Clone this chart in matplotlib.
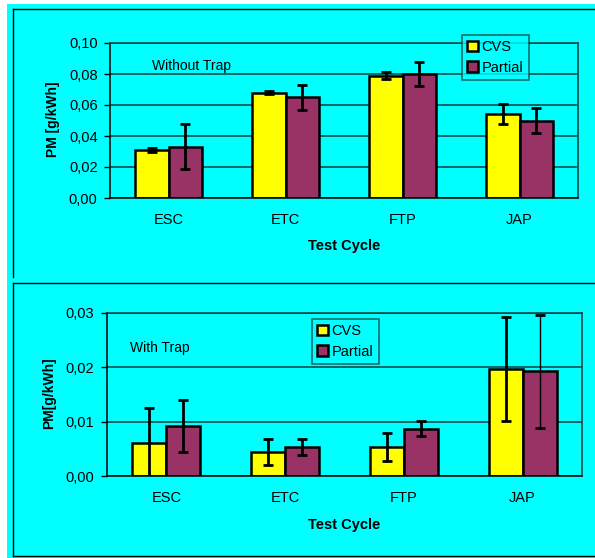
import matplotlib
matplotlib.use("Agg")
import matplotlib.pyplot as plt
from matplotlib.lines import Line2D
from matplotlib.patches import Rectangle, Patch
import numpy as np

plt.rcParams['font.family'] = ['Liberation Sans', 'DejaVu Sans']

# ---- data ----
cycles = ["ESC", "ETC", "FTP", "JAP"]
series_names = ["CVS", "Partial"]

no_trap_cvs = [0.031, 0.068, 0.079, 0.054]
no_trap_cvs_err = [0.001, 0.001, 0.0025, 0.0065]
no_trap_partial = [0.033, 0.065, 0.080, 0.050]
no_trap_partial_err = [0.0145, 0.008, 0.0075, 0.008]

trap_cvs = [0.0061, 0.0044, 0.0053, 0.0197]
trap_cvs_err = [0.0064, 0.0024, 0.0026, 0.0095]
trap_partial = [0.0092, 0.0053, 0.0087, 0.0193]
trap_partial_err = [0.0047, 0.0015, 0.0014, 0.0104]

top_ticks = [0.0, 0.02, 0.04, 0.06, 0.08, 0.10]
top_ticklabels = ["0,00", "0,02", "0,04", "0,06", "0,08", "0,10"]
bot_ticks = [0.0, 0.01, 0.02, 0.03]
bot_ticklabels = ["0,00", "0,01", "0,02", "0,03"]

# ---- style ----
W, H = 595, 558
CYAN = "#00FFFF"
YELLOW = "#FFFF00"
MAROON = "#993366"
GRID = "#0d3d3d"
FS = 10.5

fig = plt.figure(figsize=(W / 100, H / 100), dpi=100)
fig.patch.set_facecolor("white")


def fx(px):
    return px / W


def fy(py):
    return 1 - py / H


# cyan background and panel frames
fig.add_artist(Rectangle((fx(7), 0), 1 - fx(7), fy(4), transform=fig.transFigure,
                         facecolor=CYAN, edgecolor="none", zorder=0))
frame_kw = dict(transform=fig.transFigure, color="black", lw=1.0)
fig.add_artist(Line2D([fx(13), fx(13)], [fy(9), fy(277)], **frame_kw))
fig.add_artist(Line2D([fx(13), 1], [fy(9), fy(9)], **frame_kw))
fig.add_artist(Line2D([fx(13), fx(13)], [fy(283), fy(556)], **frame_kw))
fig.add_artist(Line2D([fx(13), 1], [fy(283), fy(283)], **frame_kw))
fig.add_artist(Line2D([fx(13), 1], [fy(556), fy(556)], **frame_kw))


def panel(rect_px, cvs, cvs_err, partial, partial_err, ymax, ticks, ticklabels,
          ylabel, note, note_pos, legend_px, ylabel_x, xlabel_y, thin_partial=()):
    x0, y0, x1, y1 = rect_px
    ax = fig.add_axes([fx(x0), fy(y1), fx(x1) - fx(x0), (y1 - y0) / H])
    ax.set_facecolor("none")
    ax.set_axisbelow(True)
    x = np.arange(len(cycles))
    bw = 0.287
    ekw = dict(ecolor="black", elinewidth=2.0, capsize=3.8, capthick=2.0)
    ax.bar(x - bw / 2, cvs, bw, color=YELLOW, edgecolor="black", linewidth=1.8,
           label=series_names[0], zorder=2)
    ax.bar(x + bw / 2, partial, bw, color=MAROON, edgecolor="black", linewidth=1.8,
           label=series_names[1], zorder=2)
    ax.errorbar(x - bw / 2, cvs, yerr=cvs_err, fmt="none", zorder=3, **ekw)
    eb = ax.errorbar(x + bw / 2, partial, yerr=partial_err, fmt="none", zorder=3, **ekw)
    if thin_partial:
        lw = [1.0 if i in thin_partial else 2.0 for i in range(len(cycles))]
        eb.lines[2][0].set_linewidths(lw)

    ax.set_xlim(-0.5, len(cycles) - 0.5)
    ax.set_ylim(0, ymax)
    ax.set_yticks(ticks)
    ax.set_yticklabels(ticklabels, fontsize=FS)
    ax.set_xticks(x)
    ax.set_xticklabels(cycles, fontsize=FS)
    ax.tick_params(axis="x", length=0, pad=11)
    ax.tick_params(axis="y", length=4, width=1, pad=5, direction="out")
    ax.yaxis.grid(True, color=GRID, lw=1.1)
    for s in ("left", "bottom"):
        ax.spines[s].set_color("black")
        ax.spines[s].set_linewidth(1.1)
    for s in ("top", "right"):
        ax.spines[s].set_color(GRID)
        ax.spines[s].set_linewidth(1.1)

    # axis titles: y label anchored by its right edge, x label by its top edge
    ax.set_ylabel(ylabel, fontsize=10, fontweight="bold")
    ax.yaxis.set_label_coords((ylabel_x + 8 - x0) / (x1 - x0), 0.51)
    ax.set_xlabel("Test Cycle", fontsize=FS, fontweight="bold")
    ax.xaxis.set_label_coords(0.5, (y1 - (xlabel_y - 7)) / (y1 - y0))

    ax.text((note_pos[0] - x0) / (x1 - x0), (y1 - note_pos[1]) / (y1 - y0), note,
            transform=ax.transAxes, fontsize=10, va="center", ha="left")

    lx0, ly0, lx1, ly1 = legend_px
    handles = [Patch(facecolor=YELLOW, edgecolor="black", linewidth=1.8),
               Patch(facecolor=MAROON, edgecolor="black", linewidth=1.8)]
    leg = fig.legend(handles, series_names, loc="upper left",
                     bbox_to_anchor=(fx(lx0), fy(ly1), fx(lx1) - fx(lx0), (ly1 - ly0) / H),
                     bbox_transform=fig.transFigure, mode="expand",
                     fontsize=FS, frameon=True, fancybox=False, borderaxespad=0,
                     handlelength=0.75, handleheight=0.75, handletextpad=0.25,
                     borderpad=0.35, labelspacing=0.45)
    leg.get_frame().set_facecolor(CYAN)
    leg.get_frame().set_edgecolor(GRID)
    leg.get_frame().set_linewidth(1.1)
    leg.set_zorder(5)
    return ax


panel((110, 43, 578, 198), no_trap_cvs, no_trap_cvs_err, no_trap_partial,
      no_trap_partial_err, 0.10, top_ticks, top_ticklabels, "PM [g/kWh]",
      "Without Trap", (152, 66), (462, 35, 529, 79), 52, 246)

panel((107, 313, 582, 476), trap_cvs, trap_cvs_err, trap_partial,
      trap_partial_err, 0.03, bot_ticks, bot_ticklabels, "PM[g/kWh]",
      "With Trap", (130, 348), (312, 319, 379, 363), 48, 525, thin_partial=(3,))

fig.savefig("out.png", dpi=100, facecolor=fig.get_facecolor())
